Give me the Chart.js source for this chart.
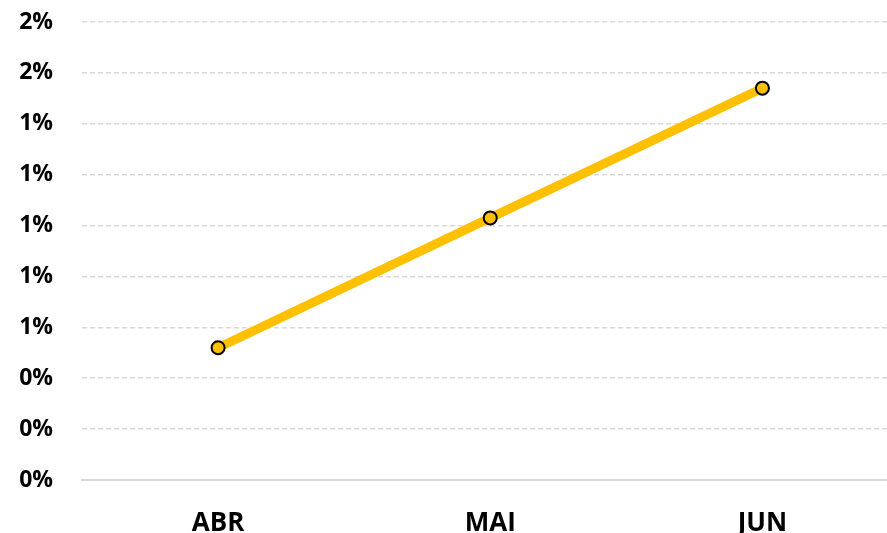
<!DOCTYPE html>
<html lang="pt">
  <head>
    <meta charset="UTF-8" />
    <title>Evolução mensal</title>
    <style>
      html,
      body {
        margin: 0;
        padding: 0;
        background: #ffffff;
        overflow: hidden;
      }
      .wrap {
        width: 887px;
        height: 533px;
        overflow: hidden;
      }
      canvas {
        display: block;
      }
    </style>
  </head>
  <body>
    <div class="wrap">
      <canvas id="lineChart" width="907" height="533" style="width: 907px; height: 533px"></canvas>
    </div>

    <script src="https://cdn.jsdelivr.net/npm/chart.js"></script>
    <script>
      // data (values in percent)
      const months = ["ABR", "MAI", "JUN"];
      const values = [0.52, 1.03, 1.54];
      const yMin = 0;
      const yMax = 1.8;
      const yStep = 0.2;

      const labelFont = { family: "'Open Sans', sans-serif", weight: "bold" };

      new Chart(document.getElementById("lineChart"), {
        type: "line",
        data: {
          labels: months,
          datasets: [
            {
              data: values,
              borderColor: "#FFC000",
              borderWidth: 9,
              backgroundColor: "#FFC000",
              pointBackgroundColor: "#FFC000",
              pointBorderColor: "#000000",
              pointBorderWidth: 2,
              pointRadius: 6.5,
              tension: 0,
              fill: false,
            },
          ],
        },
        options: {
          responsive: false,
          animation: false,
          devicePixelRatio: 1,
          layout: { padding: { top: 22, right: 1, left: 0, bottom: 0 } },
          plugins: {
            legend: { display: false },
            tooltip: { enabled: false },
          },
          scales: {
            x: {
              offset: true,
              grid: { display: false },
              border: { display: true, color: "#d9d9d9", width: 2 },
              ticks: {
                color: "#000000",
                font: { ...labelFont, size: 26 },
                padding: 20,
              },
              afterFit: (scale) => {
                scale.height = 53;
                scale.paddingLeft = 0;
                scale.paddingRight = 0;
              },
            },
            y: {
              min: yMin,
              max: yMax,
              grid: {
                color: "#d9d9d9",
                lineWidth: 1.5,
                drawTicks: false,
              },
              border: { display: false, dash: [5, 3] },
              ticks: {
                stepSize: yStep,
                color: "#000000",
                font: { ...labelFont, size: 23 },
                padding: 29,
                callback: (v) => Math.round(v) + "%",
              },
              afterFit: (scale) => {
                scale.width = 82;
                scale.paddingTop = 0;
                scale.paddingBottom = 0;
              },
            },
          },
        },
      });
    </script>
  </body>
</html>
